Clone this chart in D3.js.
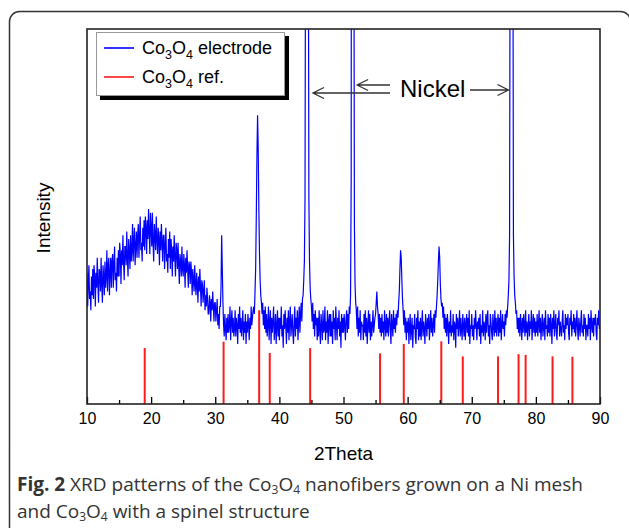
<!DOCTYPE html>
<html>
<head>
<meta charset="utf-8">
<script src="https://cdn.jsdelivr.net/npm/d3@7"></script>
<style>
  html, body { margin: 0; padding: 0; background: #fff; }
  svg { display: block; }
</style>
</head>
<body>
<svg id="chart" width="629" height="528"></svg>
<script>
// XRD pattern, one value every 0.1 deg from 10 to 90
const thetaStart = 10;
const thetaStep = 0.1;
const electrode = [
  35,26,32,37,28,30,25,34,29,36, 28,37,34,26,35,31,39,32,27,36,
  35,30,39,32,27,37,34,29,38,31, 34,41,30,37,39,29,35,39,31,38,
  40,31,37,42,33,35,30,39,34,41, 34,43,40,32,41,37,45,38,33,42,
  42,37,46,39,34,44,41,36,45,38, 41,48,38,44,47,37,42,46,39,45,
  48,39,45,50,41,43,38,47,42,49, 41,50,47,40,49,44,52,46,40,51,
  47,42,51,43,38,48,45,41,50,44, 40,47,44,37,46,41,48,43,38,45,
  45,36,42,47,38,40,35,44,39,46, 36,44,41,34,42,38,45,39,34,43,
  41,36,43,37,32,40,38,34,42,36, 34,40,37,31,39,35,41,36,31,38,
  37,32,38,35,29,36,33,30,37,32, 29,35,32,27,34,30,36,31,26,33,
  32,27,30,33,25,29,26,31,28,24, 24,29,27,22,28,25,30,26,22,27,
  27,22,25,28,21,24,20,26,26,31, 45,36,27,21,18,24,20,17,23,19,
  24,19,21,26,17,22,25,19,23,18, 20,25,18,23,21,16,24,20,26,19,
  23,18,21,25,17,22,19,24,16,22, 19,24,21,17,23,20,26,21,23,25,
  26,24,30,36,50,66,77,68,52,40, 33,29,27,24,27,21,25,20,26,19,
  24,18,21,26,17,22,25,16,23,19, 22,26,17,20,24,16,21,25,18,23,
  17,23,20,26,18,21,15,24,20,25, 21,16,23,19,25,17,22,26,18,21,
  24,19,16,22,26,18,23,20,25,17, 22,26,19,24,27,22,28,29,33,38,
  55,150,400,400,400,150,55,38,31,28, 26,22,27,20,24,18,25,21,23,17,
  23,18,25,20,16,24,21,17,25,19, 20,26,17,22,19,25,16,22,24,18,
  24,18,22,16,25,20,23,17,26,21, 17,23,20,25,18,22,15,24,19,23,
  19,24,21,17,23,25,19,24,20,26, 24,29,60,400,400,400,150,48,32,27,
  25,20,26,18,23,19,25,17,22,21, 21,17,24,19,25,18,23,16,21,25,
  19,24,17,22,18,21,25,19,21,23, 24,27,30,26,24,20,24,19,23,18,
  24,19,22,17,25,21,18,24,19,23, 18,22,25,20,16,24,21,18,25,20,
  23,19,24,21,25,23,27,30,36,41, 39,33,28,25,21,25,19,23,17,22,
  19,23,16,21,24,17,20,23,15,21, 20,24,18,16,23,20,25,17,22,18,
  23,17,21,25,18,22,20,16,24,21, 18,23,20,24,17,21,25,19,23,18,
  21,24,19,25,23,26,29,33,38,42, 39,32,28,26,27,23,26,20,24,19,
  23,18,24,21,16,22,19,25,18,21, 19,24,17,22,21,15,24,20,23,18,
  21,25,18,23,20,17,24,21,18,23, 17,21,24,19,23,18,25,16,21,20,
  24,18,21,17,23,20,25,21,17,22, 20,23,18,24,16,21,19,25,18,22,
  21,17,24,19,23,25,18,21,16,24, 22,19,17,24,21,18,25,19,23,18,
  21,24,18,23,19,25,17,21,24,20, 22,18,24,21,25,23,26,29,33,45,
  150,400,400,400,150,45,34,29,27,24, 25,20,23,19,23,18,24,21,17,23,
  19,24,21,18,25,19,22,17,21,24, 18,22,20,25,17,21,24,19,23,18,
  22,19,24,18,21,25,19,23,17,21, 24,18,21,23,17,25,20,21,18,24,
  19,23,18,24,21,16,23,20,25,18, 21,24,19,17,23,21,25,18,22,20,
  18,22,25,19,21,17,24,20,23,21, 24,19,17,23,21,25,18,22,20,24,
  19,23,18,21,25,20,17,23,21,18, 22,25,19,21,18,24,20,23,17,21,
  21,18,24,20,23,17,25,21,19,23, 18,23,21,24,19,17,23,21,25,20,
  21
];

// Co3O4 reference lines
const refAngles = [19.0, 31.3, 36.85, 38.5, 44.8, 55.7, 59.4, 65.25, 68.6, 74.1, 77.3, 78.4, 82.6, 85.7];
const refHeights = [14.9, 16.6, 25, 13.6, 14.9, 13.5, 16, 16.7, 12.7, 12.7, 13.3, 13.1, 12.7, 12.6];

const xTicks = [10, 20, 30, 40, 50, 60, 70, 80, 90];
const xMinorTicks = [15, 25, 35, 45, 55, 65, 75, 85];
const nickelPeaks = [44.3, 51.5, 76.2];

const width = 629;
const height = 528;
const margin = ({ top: 29, right: 29, bottom: 124, left: 87 });
const axisFont = "Arial, 'Liberation Sans', sans-serif";

const svg = d3.select("#chart");

const x = d3.scaleLinear()
  .domain([10, 90])
  .range([margin.left, width - margin.right]);

const y = d3.scaleLinear()
  .domain([0, 100])
  .range([height - margin.bottom, margin.top]);

// outer figure frame
svg.append("rect")
  .attr("x", 9.5).attr("y", 11.5)
  .attr("width", 621).attr("height", 560)
  .attr("rx", 10)
  .attr("fill", "none")
  .attr("stroke", "#333")
  .attr("stroke-width", 1.5);

svg.append("clipPath")
  .attr("id", "plot-clip")
  .append("rect")
  .attr("x", x(10)).attr("y", y(100))
  .attr("width", x(90) - x(10)).attr("height", y(0) - y(100));

// measured pattern
const line = d3.line()
  .x((d, i) => x(thetaStart + i * thetaStep))
  .y(d => y(d));

svg.append("path")
  .datum(electrode)
  .attr("clip-path", "url(#plot-clip)")
  .attr("fill", "none")
  .attr("stroke", "#0000ff")
  .attr("stroke-width", 1.2)
  .attr("d", line);

// reference sticks
svg.append("g")
  .attr("stroke", "#ff1a1a")
  .attr("stroke-width", 2)
  .selectAll("line")
  .data(refAngles)
  .join("line")
  .attr("x1", d => x(d)).attr("x2", d => x(d))
  .attr("y1", y(0))
  .attr("y2", (d, i) => y(refHeights[i]));

// x axis, ticks pointing inwards
const xAxis = g => g
  .attr("transform", `translate(0,${y(0)})`)
  .call(d3.axisBottom(x).tickValues(xTicks).tickSize(-7).tickPadding(9).tickFormat(d3.format("d")))
  .call(g => g.select(".domain").remove())
  .call(g => g.selectAll(".tick line").attr("stroke", "#000").attr("stroke-width", 1.3))
  .call(g => g.selectAll(".tick text")
    .attr("font-family", axisFont)
    .attr("font-size", 16)
    .attr("fill", "#000"));

const xMinor = g => g
  .attr("transform", `translate(0,${y(0)})`)
  .call(d3.axisBottom(x).tickValues(xMinorTicks).tickSize(-4).tickFormat(""))
  .call(g => g.select(".domain").remove())
  .call(g => g.selectAll(".tick line").attr("stroke", "#000").attr("stroke-width", 1.3));

svg.append("g").call(xAxis);
svg.append("g").call(xMinor);

// plot frame
svg.append("rect")
  .attr("x", x(10)).attr("y", y(100))
  .attr("width", x(90) - x(10)).attr("height", y(0) - y(100))
  .attr("fill", "none")
  .attr("stroke", "#222")
  .attr("stroke-width", 1.6);

// axis titles
svg.append("text")
  .attr("x", (x(10) + x(90)) / 2)
  .attr("y", 460)
  .attr("text-anchor", "middle")
  .attr("font-family", axisFont)
  .attr("font-size", 19)
  .text("2Theta");

svg.append("text")
  .attr("transform", "translate(50,218) rotate(-90)")
  .attr("text-anchor", "middle")
  .attr("font-family", axisFont)
  .attr("font-size", 19)
  .text("Intensity");

// legend
const legend = svg.append("g");
legend.append("rect")
  .attr("x", 100).attr("y", 36).attr("width", 189).attr("height", 64)
  .attr("fill", "#000");
legend.append("rect")
  .attr("x", 96.5).attr("y", 32.5).attr("width", 188).attr("height", 63)
  .attr("fill", "#fff")
  .attr("stroke", "#999");

const legendItems = [
  { color: "#0000ff", label: " electrode", ly: 48 },
  { color: "#ff1a1a", label: " ref.", ly: 77 }
];

legendItems.forEach(item => {
  legend.append("line")
    .attr("x1", 104).attr("x2", 134)
    .attr("y1", item.ly).attr("y2", item.ly)
    .attr("stroke", item.color)
    .attr("stroke-width", 1.6);
  const t = legend.append("text")
    .attr("x", 142).attr("y", item.ly + 5.5)
    .attr("font-family", axisFont)
    .attr("font-size", 18);
  t.append("tspan").text("Co");
  t.append("tspan").attr("dy", 5).attr("font-size", 12.5).text("3");
  t.append("tspan").attr("dy", -5).text("O");
  t.append("tspan").attr("dy", 5).attr("font-size", 12.5).text("4");
  t.append("tspan").attr("dy", -5).text(item.label);
});

// Nickel annotation
const note = svg.append("g");
note.append("text")
  .attr("x", 400).attr("y", 97)
  .attr("font-family", axisFont)
  .attr("font-size", 24)
  .text("Nickel");

const arrows = [
  { from: 390, to: x(nickelPeaks[0]) + 6, ay: 93 },
  { from: 390, to: x(nickelPeaks[1]) + 4, ay: 85 },
  { from: 470, to: x(nickelPeaks[2]) - 3, ay: 90 }
];

arrows.forEach(a => {
  const dir = a.to < a.from ? 1 : -1;
  note.append("path")
    .attr("d", `M${a.from},${a.ay}H${a.to}M${a.to + dir * 11},${a.ay - 5.5}L${a.to},${a.ay}L${a.to + dir * 11},${a.ay + 5.5}`)
    .attr("fill", "none")
    .attr("stroke", "#333")
    .attr("stroke-width", 1.3);
});

// figure caption
const captionFont = "'Open Sans', 'Noto Sans', sans-serif";
const cap1 = svg.append("text")
  .attr("x", 17).attr("y", 491)
  .attr("font-family", captionFont)
  .attr("font-size", 19)
  .attr("fill", "#333");
cap1.append("tspan").attr("font-weight", "bold").text("Fig. 2");
cap1.append("tspan").text(" XRD patterns of the Co");
cap1.append("tspan").attr("dy", 3).attr("font-size", 12).text("3");
cap1.append("tspan").attr("dy", -3).text("O");
cap1.append("tspan").attr("dy", 3).attr("font-size", 12).text("4");
cap1.append("tspan").attr("dy", -3).text(" nanofibers grown on a Ni mesh");

const cap2 = svg.append("text")
  .attr("x", 17).attr("y", 518)
  .attr("font-family", captionFont)
  .attr("font-size", 19)
  .attr("fill", "#333");
cap2.append("tspan").text("and Co");
cap2.append("tspan").attr("dy", 3).attr("font-size", 12).text("3");
cap2.append("tspan").attr("dy", -3).text("O");
cap2.append("tspan").attr("dy", 3).attr("font-size", 12).text("4");
cap2.append("tspan").attr("dy", -3).text(" with a spinel structure");
</script>
</body>
</html>
